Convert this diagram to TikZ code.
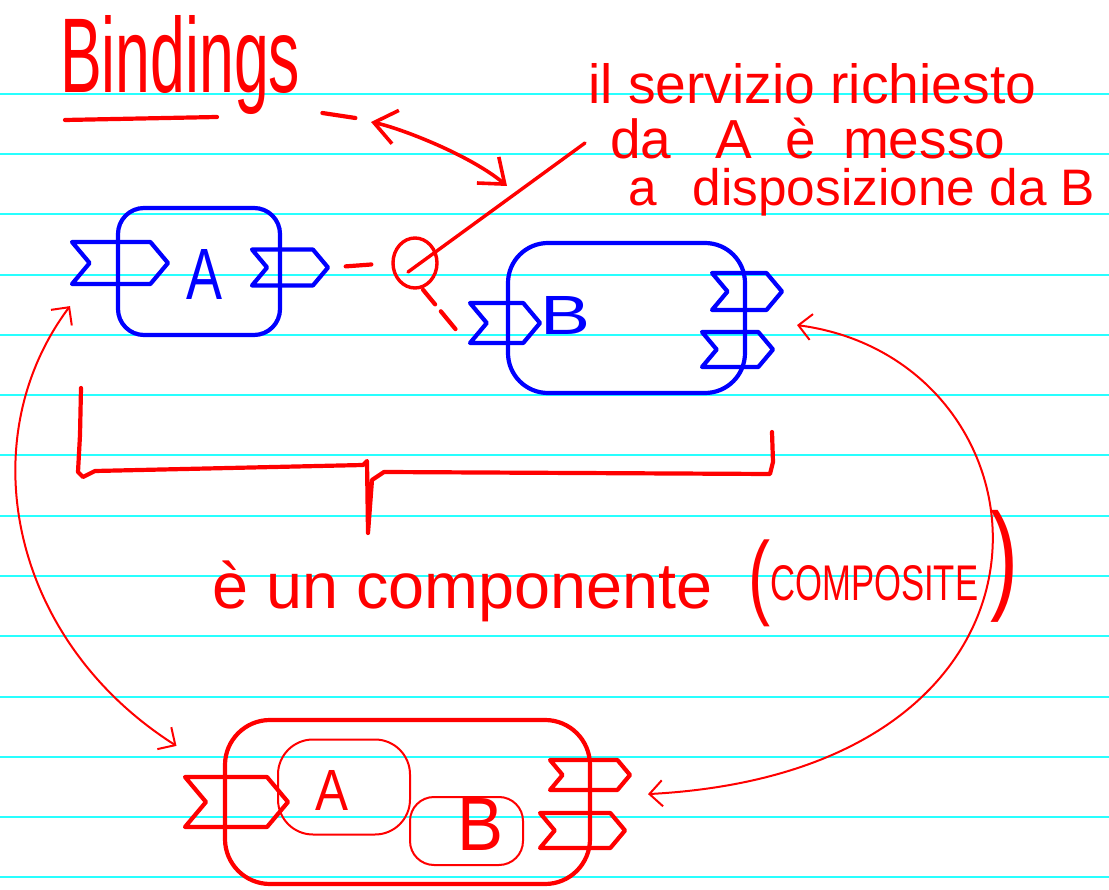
\documentclass[tikz,border=0pt]{standalone}
\usepackage{fontspec}
\setmainfont{Liberation Sans}
\usetikzlibrary{shapes.symbols,shapes.geometric,arrows.meta,calc}
\definecolor{penred}{RGB}{255,0,0}
\definecolor{penblue}{RGB}{0,0,255}
\definecolor{ruled}{RGB}{40,255,255}
\begin{document}
\begin{tikzpicture}[x=1pt,y=-1pt,line cap=round,line join=round,
  redpen/.style={draw=penred,line width=4.2pt},
  bluepen/.style={draw=penblue,line width=4.2pt},
  thinred/.style={draw=penred,line width=2pt},
  blob/.style={rectangle,inner sep=0pt},
  port/.style={signal,signal from=west,signal to=east,signal pointer angle=100,inner sep=0pt},
  hand/.style={inner sep=0pt,font=\fontsize{54}{60}\selectfont},
  lbl/.style={inner sep=0pt,anchor=base west},
  bigbarb/.style={arrows={Straight Barb[length=22pt,width=34pt]-Straight Barb[length=22pt,width=34pt]}},
  thinbarb/.style={arrows={Straight Barb[length=13pt,width=26pt]-Straight Barb[length=13pt,width=26pt]}}]
\useasboundingbox[fill=white] (0,0) rectangle (1109,890);
% ruled paper
\foreach \k in {0,...,13}
  \draw[ruled,line width=2pt] (0,{94+60.25*\k}) -- (1109,{94+60.25*\k});

% ---------- title ----------
\node[hand,text=penred,anchor=base west] (title) at (60,93) {\resizebox{240pt}{77pt}{Bindings}};
\draw[redpen] ($(title.base west)+(5,27)$) -- ++(152,-3);
\draw[redpen] ($(title.base east)+(22,20)$) -- ++(33,5);

% ---------- explanation ----------
\node[hand,text=penred,anchor=base west] (expl1) at (588,104) {\resizebox{448pt}{!}{il servizio richiesto}};
\node[hand,text=penred,anchor=base west] (expl2) at (610,159) {\resizebox{395pt}{!}{da\hspace{0.8em}A\hspace{0.6em}è\hspace{0.5em}messo}};
\node[hand,text=penred,anchor=base west] (expl3) at (628,206) {\resizebox{467pt}{!}{a\hspace{0.7em}disposizione da B}};

% ---------- component A ----------
\node[blob,bluepen,rounded corners=26pt,minimum width=162pt,minimum height=127pt] (Ablob) at (199,271.5) {};
\node[port,bluepen,minimum width=96pt,minimum height=42pt] (Ain) at (120,263) {};
\node[port,bluepen,minimum width=76pt,minimum height=36pt] (Aout) at (290,267.5) {};
\node[lbl,text=penblue] (Alab) at (186,300) {\resizebox{36pt}{50pt}{A}};

% ---------- component B ----------
\node[blob,bluepen,rounded corners=40pt,minimum width=237pt,minimum height=150pt] (Bblob) at (626.5,318) {};
\node[port,bluepen,minimum width=70pt,minimum height=40pt] (Bin) at (505,323) {};
\node[port,bluepen,minimum width=70pt,minimum height=37pt] (Bout1) at (747,291.5) {};
\node[port,bluepen,minimum width=71pt,minimum height=35pt] (Bout2) at (737.5,349.5) {};
\node[lbl,text=penblue] (Blab) at (540,335) {\resizebox{50pt}{38pt}{B}};

% ---------- binding ----------
\node[ellipse,draw=penred,line width=3.4pt,minimum width=44pt,minimum height=50pt,inner sep=0pt] (svc) at (415,263) {};
\draw[redpen,shorten <=15pt,shorten >=20pt] (Aout.east) -- (svc.west);
\draw[redpen,dash pattern=on 19pt off 9pt on 26pt off 60pt] ([xshift=8pt]svc.south) -- ($(Bin.south west)+(-10,-16)$);
\draw[draw=penred,line width=3.4pt] ($(svc.center)+(-7,9)$) -- ($(expl2.base west)+(-25,-16)$);
\coordinate (bmark) at (371,122);
\coordinate (hit) at (507,186);
\draw[draw=penred,line width=3.6pt,bigbarb] (bmark) .. controls (400,128) and (470,155) .. (hit);

% ---------- brace ----------
\draw[redpen] (81,388) -- (80,435) -- (78,472) -- (83,477) -- (95,471) -- (363,465) -- (367,461)
  -- (368,533) -- (372,480) -- (384,472) -- (770,474) -- (773,462) -- (772,432);

% ---------- text ----------
\node[hand,text=penred,anchor=base west] (comptext) at (212,608) {\resizebox{500pt}{!}{è un componente}};
\node[text=penred,inner sep=0pt] (lpar) at (759,583) {\resizebox*{22pt}{87pt}{(}};
\node[text=penred,inner sep=0pt,anchor=base west] (compo) at (770,600) {\resizebox{208pt}{35pt}{COMPOSITE}};
\node[text=penred,inner sep=0pt] (rpar) at (1004,566) {\resizebox*{28pt}{112pt}{)}};

% ---------- composite ----------
\node[blob,redpen,rounded corners=45pt,minimum width=365pt,minimum height=164pt] (comp) at (407.5,802) {};
\node[blob,thinred,rounded corners=35pt,minimum width=132pt,minimum height=95pt] (cA) at (344,787) {};
\node[blob,thinred,rounded corners=24pt,minimum width=113pt,minimum height=68pt] (cB) at (466.5,831) {};
\node[lbl,text=penred] (cAlab) at (315,810) {\resizebox{33pt}{40pt}{A}};
\node[lbl,text=penred] (cBlab) at (457,850) {\resizebox{46pt}{52pt}{B}};
\node[port,redpen,minimum width=103pt,minimum height=50pt] (Cin) at (236.5,802) {};
\node[port,redpen,minimum width=80pt,minimum height=30pt] (Cout1) at (590,775) {};
\node[port,redpen,minimum width=85pt,minimum height=35pt] (Cout2) at (582.5,830.5) {};

% ---------- promotion links ----------
\draw[thinred,thinbarb] ($(Ain.south)+(-50,20)$) .. controls (-30,440) and (10,640) .. ($(Cin.north)+(-60,-29)$);
\draw[thinred,thinbarb] ($(Bout1.south)+(50,13)$) .. controls (1060,360) and (1100,770) .. ($(Cout1.south)+(58,2)$);
\end{tikzpicture}
\end{document}
